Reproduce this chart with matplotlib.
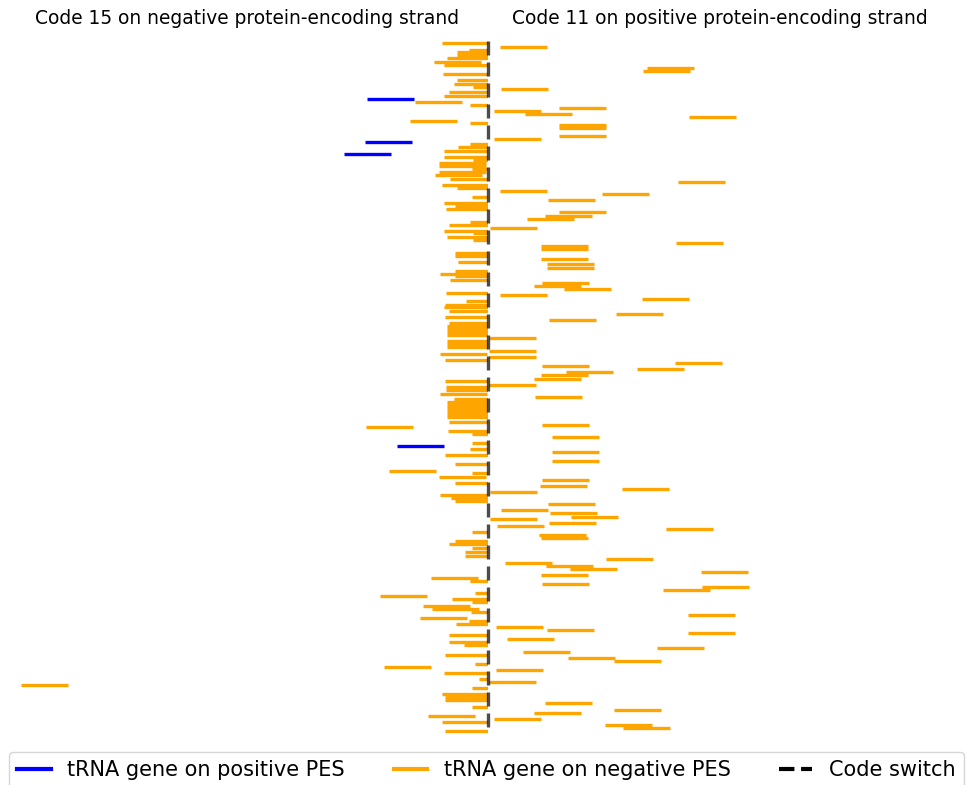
import numpy as np
import matplotlib.pyplot as plt
from matplotlib.lines import Line2D

# tRNA positions relative to the code switch (x) and row order (y)
TRNA_LEN = 47

pos_start = [-121, -123, -144, -91]
pos_row = [98.7, 142, 154.3, 445.7]

left_start = [
    -46, -19, -31, -31, -41, -54, -44,
    -45, -31, -34, -15, -39, -44,
    -73, -18, -78, -18,
    -18, -30, -44, -44, -15, -49, -49, -16, -49, -53, -38, -46, -31, -16, -44, -33, -42,
    -18, -39, -44, -15, -41, -15,
    -33, -33, -30, -33, -48, -33, -38, -42,
    -22, -43, -44, -39, -43, -39, -41, -41, -41, -41, -41, -41, -41, -48, -43,
    -43, -42, -42, -48, -34, -41, -41, -41, -41, -41, -41, -39, -122, -40, -16, -16, -18, -43, -33,
    -99, -16, -49, -33, -48, -37, -33, -16, -33, -39, -16, -23, -23,
    -57, -18, -13, -108, -36, -16, -65, -56, -17, -68, -19, -32,
    -39, -39, -24, -43, -13, -104, -44, -9, -16, -46, -43, -43, -16, -60, -46, -43, -466]
left_row = [
    43.3, 49.7, 52.3, 55, 58.3, 62.3, 65,
    74.3, 79.7, 83.7, 87, 92.3, 95.7,
    102, 105, 120.7, 123.3,
    144, 147.3, 151, 157, 160, 163.3, 166, 169, 172.3, 175.3, 178.7, 184.7, 188, 197, 203, 206, 209.3,
    221.7, 225, 230.7, 233.3, 237.3, 240.3,
    252.7, 255.7, 262, 270.7, 273.7, 276.3, 280, 292.5,
    301.3, 304.7, 307.3, 310.7, 317, 322.7, 326, 329, 332, 335, 341, 344, 347.3, 353.7, 360,
    381, 387, 390, 394, 399, 401.7, 405, 408, 411, 414, 417, 421.7, 427.3, 430.7, 434, 442.7, 448.7, 455, 463.7,
    470.7, 473.3, 476.7, 482.7, 494.7, 498, 501.3, 532, 540.7, 544, 547.5, 552.3, 556,
    578, 581, 593, 596.3, 599.3, 602.3, 605.7, 608.7, 611.7, 617.7, 621, 624,
    634.5, 642.3, 645.3, 654.7, 663.7, 666.7, 672.7, 678.7, 688.3, 694, 697, 700.3, 706.7, 716, 722, 731.3, 685]

right_start = [
    12, 159, 155, 13, 71, 6, 37, 201, 71, 71, 71, 6, 190, 12, 114, 60,
    71, 57, 39, 2, 188, 53, 53, 53, 59, 59, 54, 46, 76, 12,
    154, 128, 61, 1, 1, 1, 187, 54, 149, 78, 53, 46,
    1, 47, 54, 64, 64, 64,
    54, 52, 134, 2, 60, 13, 62, 83, 2, 61, 9, 178, 51, 53,
    118, 17, 58, 82, 213, 53, 54, 214, 175, 200, 8, 59, 200,
    19, 169, 35, 80, 126, 8, 1, 57, 126, 46, 6, 117, 135]
right_row = [
    47, 68, 71.3, 89.3, 108, 111, 114.3, 117.3, 125, 128, 135.7, 139, 182, 191, 194, 200.3,
    212.3, 216, 218.7, 228, 243, 245.7, 249, 258.7, 264.3, 268, 283, 286.3, 289, 294.5,
    298.7, 313.7, 319.7, 338.3, 350.7, 356.7, 363, 366, 369.3, 372, 375.3, 378.5,
    384.7, 397, 424.7, 436.7, 452, 461.3,
    479.7, 486, 489, 492, 504, 510.3, 513.3, 516.7, 519.3, 522.7, 525.7, 528.7, 534.7, 538,
    559.3, 562.7, 565.7, 568.7, 571.7, 575, 584, 587, 590, 614.7, 626.7, 630, 633,
    639.3, 648, 651.7, 657.7, 660.7, 670, 682.3, 703.3, 709.7, 712.7, 719, 725, 728.3]

titles = ['Code 15 on negative protein-encoding strand',
          'Code 11 on positive protein-encoding strand']
legend_labels = ['tRNA gene on positive PES', 'tRNA gene on negative PES', 'Code switch']

W, H = 966, 785
SW = 487.5  # switch location in figure pixels
LW = 2.4

fig = plt.figure(figsize=(W / 100, H / 100), dpi=100)
ax_l = fig.add_axes([0, 0, SW / W, 1])
ax_r = fig.add_axes([SW / W, 0, 1 - SW / W, 1])

ax_l.set_xlim(-SW, 0)
ax_r.set_xlim(0, W - SW)
for ax in (ax_l, ax_r):
    ax.set_ylim(H, 0)
    ax.axis('off')

ls = np.array(left_start)
ax_l.hlines(left_row, ls, ls + TRNA_LEN, color='orange', lw=LW)
ps = np.array(pos_start)
ax_l.hlines(pos_row, ps, ps + TRNA_LEN, color='blue', lw=LW)
rs = np.array(right_start)
ax_r.hlines(right_row, rs, rs + TRNA_LEN, color='orange', lw=LW)

all_rows = left_row + right_row + pos_row
sw_line = ax_r.vlines(0, min(all_rows) - 2.3, max(all_rows), color='k', alpha=0.7,
                      lw=LW, linestyles='--', clip_on=False, zorder=5)
sw_line.set_dashes([(0, (4.2, 2.1))])

fig.text(247.5 / W, 1 - 19 / H, titles[0], ha='center', va='center', fontsize=13.4)
fig.text(720 / W, 1 - 19 / H, titles[1], ha='center', va='center', fontsize=13.4)

handles = [Line2D([], [], color='blue', lw=3),
           Line2D([], [], color='orange', lw=3),
           Line2D([], [], color='k', lw=3, ls='--')]
fig.legend(handles, legend_labels, loc='upper left',
           bbox_to_anchor=(9 / W, 0, 955 / W, 1 - 752 / H), mode='expand',
           ncol=3, fontsize=15, handlelength=1.6, borderaxespad=0)

fig.savefig('out.png', dpi=100)
